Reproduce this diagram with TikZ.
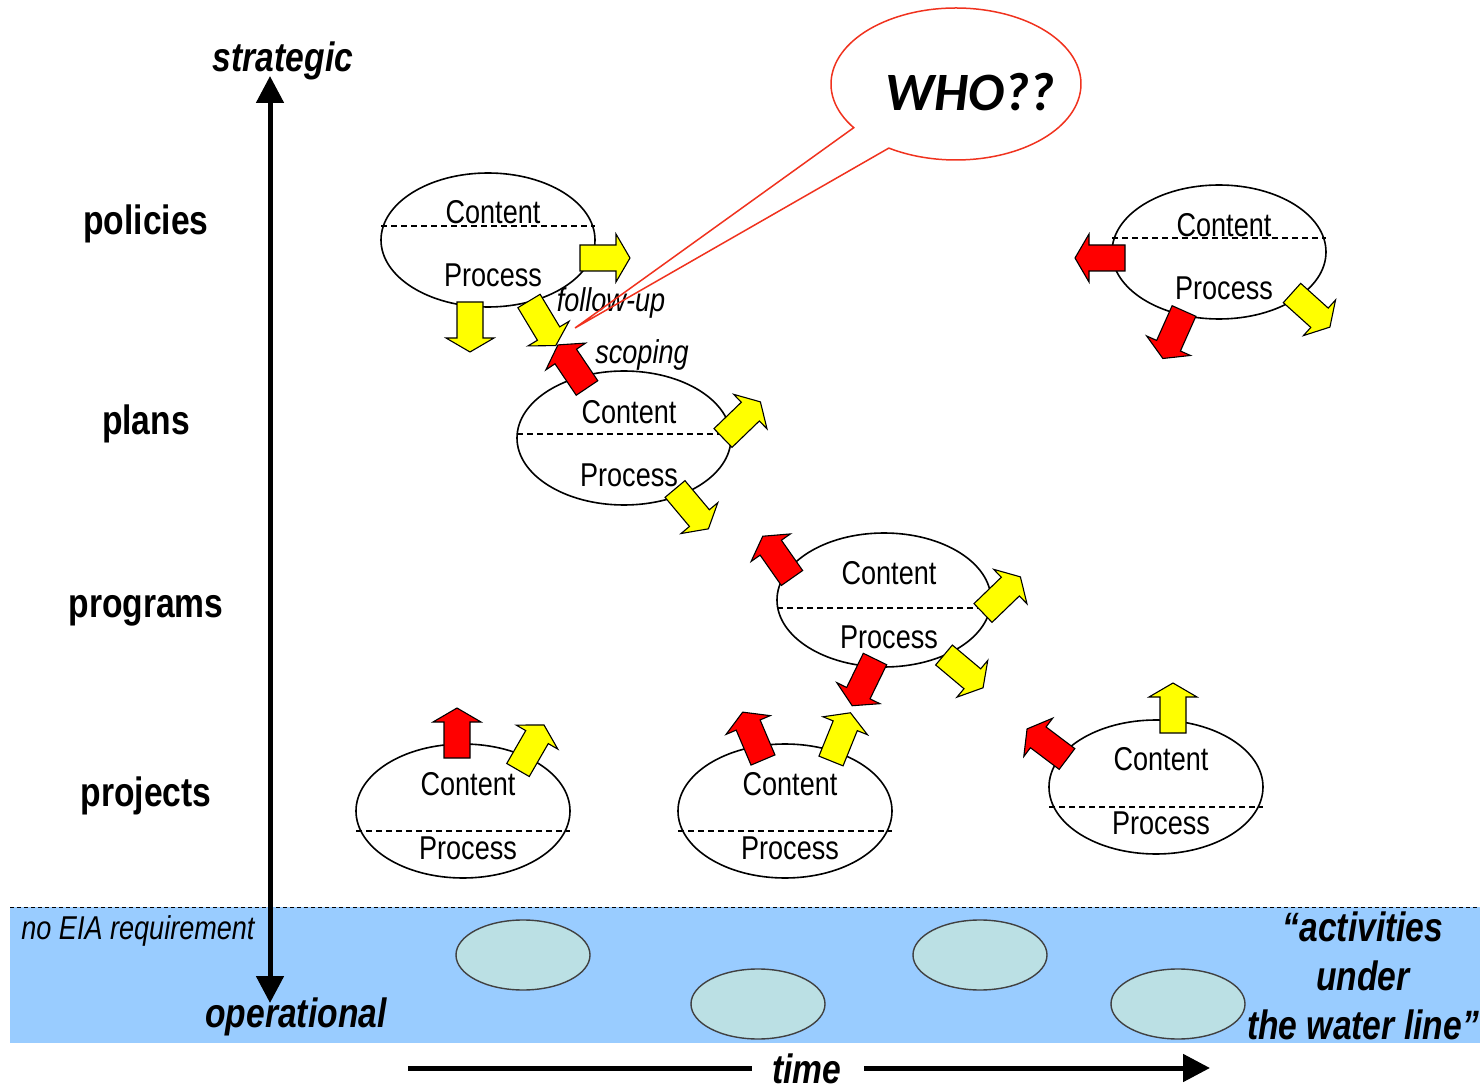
\documentclass[tikz,border=0pt]{standalone}
\usepackage{fontspec}
\setmainfont{Liberation Sans}[FakeStretch=0.82]
\newfontfamily\whofont{Carlito}
\usetikzlibrary{arrows.meta,calc,shapes.geometric}

\definecolor{water}{RGB}{153,204,255}
\definecolor{stone}{RGB}{187,224,228}
\definecolor{callred}{RGB}{240,50,30}
\definecolor{fatyellow}{RGB}{255,255,0}
\definecolor{fatred}{RGB}{255,0,0}

\tikzset{bigtip/.tip={Triangle[width=13.5pt,length=13.5pt]}}

% fat block arrow: fill colour, tail x, tail y, direction (deg), length
\newcommand\fatarrow[5]{%
  \filldraw[fatedge, fill=#1, shift={(#2,#3)}, rotate=#4]
    (0,-13) -- (#5-14,-13) -- (#5-14,-24) -- (#5,0) -- (#5-14,24)
    -- (#5-14,13) -- (0,13) -- cycle;}

% content/process ellipse: name, centre x, centre y, divider y, content y, process y
\newcommand\cpunit[6]{%
  \node[cpell] (#1) at (#2,#3) {};
  \draw[cpdash] (#2-107,#4) -- (#2+107,#4);
  \node[cptext] (#1c) at (#2+5,#5) {Content};
  \node[cptext] (#1p) at (#2+5,#6) {Process};}

\begin{document}
\begin{tikzpicture}[x=0.5pt,y=-0.5pt,
  cpell/.style={ellipse, draw, line width=0.8pt, minimum width=107pt,
    minimum height=67pt, inner sep=0pt},
  cpdash/.style={dashed, dash pattern=on 3pt off 2pt, line width=0.6pt},
  cptext/.style={font=\fontsize{16.5}{19}\selectfont, inner sep=0pt},
  fatedge/.style={draw=black, line width=0.55pt, line join=miter},
  level/.style={font=\fontsize{20.5}{24}\selectfont\bfseries, inner sep=0pt},
  axislabel/.style={font=\fontsize{20.5}{24}\selectfont\bfseries\itshape, inner sep=0pt},
  note/.style={font=\fontsize{16.5}{19}\selectfont\itshape, inner sep=0pt},
  stoneell/.style={ellipse, draw=black!75, fill=stone, line width=0.7pt,
    minimum width=67pt, minimum height=35pt, inner sep=0pt},
  axis/.style={line width=2.5pt}]

\useasboundingbox (0,0) rectangle (1480,1091);

% water band with submerged activities
\fill[water] (10,907) rectangle (1480,1043);
\draw[dashed, dash pattern=on 2pt off 1.5pt, line width=0.5pt] (10,907) -- (1480,907);
\node[stoneell] (w1) at (523,955) {};
\node[stoneell] (w2) at (758,1004) {};
\node[stoneell] (w3) at (980,955) {};
\node[stoneell] (w4) at (1178,1004) {};

\node[note, anchor=west] (noeia) at (21,931) {no EIA requirement};
\node[axislabel, align=center, font=\fontsize{20.5}{24.5}\selectfont\bfseries\itshape]
  (under) at (1363,976) {“activities\\under\\the water line”};

% vertical axis
\coordinate (axb) at (270,1003);
\coordinate (axt) at (270,76);
\draw[axis, bigtip-bigtip] (axb) -- (axt);
\node[axislabel] (strat) at (283,61) {strategic};
\node[axislabel] (oper) at (296,1017) {operational};

% time axis
\coordinate (tl) at (408,1068);
\coordinate (tr) at (1210,1068);
\node[axislabel] (time) at (807,1069) {time};
\draw[axis] (tl) -- (tl -| 752,0);
\draw[axis, -bigtip] (tr -| 864,0) -- (tr);

% levels
\node[level] (policies) at (146,224) {policies};
\node[level] (plans) at (146,424) {plans};
\node[level] (programs) at (146,611) {programs};
\node[level] (projects) at (146,796) {projects};

% content/process units
\cpunit{e1}{488}{240}{226}{212}{275}
\cpunit{e2}{1219}{252}{238}{225}{288}
\cpunit{e3}{624}{438}{434}{412}{475}
\cpunit{e4}{884}{600}{608}{573}{637}
\cpunit{e5}{463}{811}{831}{784}{848}
\cpunit{e6}{785}{811}{831}{784}{848}
\cpunit{e7}{1156}{787}{807}{759}{823}

% information flows
\fatarrow{fatyellow}{580}{258}{0}{50}
\fatarrow{fatyellow}{470}{302}{-90}{50}
\fatarrow{fatyellow}{529}{301}{-59}{52}
\fatarrow{fatred}{587}{388}{124}{52}
\fatarrow{fatred}{1125}{258}{180}{50}
\fatarrow{fatred}{1184}{311}{-114}{52}
\fatarrow{fatyellow}{1292}{293}{-42}{51}
\fatarrow{fatyellow}{723}{438}{44}{52}
\fatarrow{fatyellow}{675}{489}{-50}{52}
\fatarrow{fatred}{792}{578}{125}{51}
\fatarrow{fatyellow}{983}{613}{44}{52}
\fatarrow{fatyellow}{944}{655}{-40}{51}
\fatarrow{fatred}{875}{659}{-116}{52}
\fatarrow{fatred}{457}{758}{90}{50}
\fatarrow{fatyellow}{518}{770}{60}{52}
\fatarrow{fatred}{763}{760}{113}{52}
\fatarrow{fatyellow}{831}{761}{68}{52}
\fatarrow{fatred}{1067}{759}{143}{50}
\fatarrow{fatyellow}{1173}{733}{90}{50}

% speech bubble
\coordinate (who) at (956,84);
\coordinate (whotip) at (575,328);
\fill[white] (whotip) -- ($(who)+(144.9:125 and 76)$)
  arc[start angle=144.9, end angle=482.5, x radius=125, y radius=76] -- cycle;

\node[note] (followup) at (611,303) {follow-up};
\node[note] (scoping) at (642,355) {scoping};

\draw[callred, line width=0.75pt, line join=miter] (whotip) -- ($(who)+(144.9:125 and 76)$)
  arc[start angle=144.9, end angle=482.5, x radius=125, y radius=76] -- cycle;
\node[font=\whofont\fontsize{27}{30}\selectfont\bfseries\itshape, inner sep=0pt]
  (whotext) at (970,92) {WHO??};
\end{tikzpicture}
\end{document}
